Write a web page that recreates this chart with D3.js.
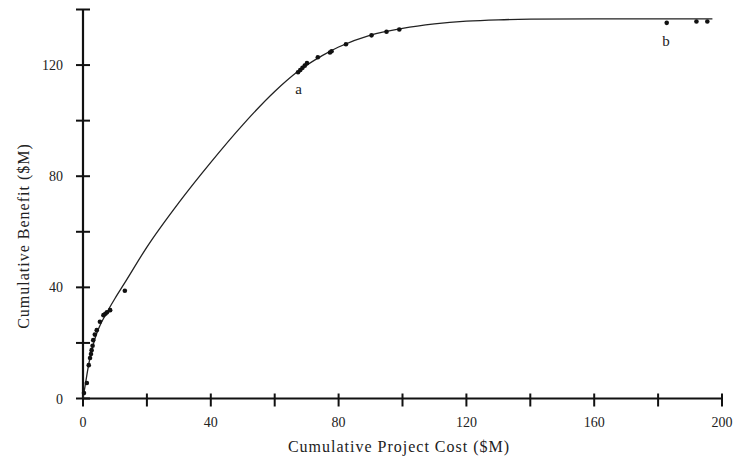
<!DOCTYPE html>
<html>
<head>
<meta charset="utf-8">
<script src="https://cdn.jsdelivr.net/npm/d3@7"></script>
<style>
  body { margin: 0; background: #fff; }
  text { font-family: "Liberation Serif", "DejaVu Serif", serif; fill: #222; }
</style>
</head>
<body>
<div id="chart"></div>
<script>
"use strict";

// Fitted benefit curve (cost $M, benefit $M).
const curveCost    = [0, 0.5, 1, 2, 3, 4, 5, 7, 10, 13, 20, 30, 40, 50, 60, 67, 75, 80, 90, 100, 110, 120, 130, 140, 160, 180, 197];
const curveBenefit = [0, 3.5, 7, 13.5, 18.5, 22.5, 25.5, 30, 36, 41.5, 54.5, 70.5, 85, 98.5, 110.5, 117.5, 123.5, 126.5, 130.8, 133.2, 134.8, 135.8, 136.3, 136.5, 136.6, 136.6, 136.6];

// Individual projects (cumulative).
const pointCost    = [0.3, 1.2, 1.8, 2.2, 2.5, 2.7, 3.0, 3.2, 3.7, 4.3, 5.3, 6.4, 7.0, 7.5, 8.5, 13.1,
                      67.3, 68.0, 68.7, 69.4, 70.1, 73.5, 77.3, 77.8, 82.3, 90.3, 95.0, 99.0,
                      182.7, 192.0, 195.4];
const pointBenefit = [2, 5.6, 12, 14.6, 16, 17.4, 19, 21, 23, 24.6, 27.6, 30, 30.5, 31, 31.8, 38.8,
                      117.4, 118.2, 119, 119.8, 120.7, 122.8, 124.5, 125, 127.5, 130.7, 132, 132.8,
                      135.2, 135.7, 135.7];

// Point labels.
const labelText    = ["a", "b"];
const labelCost    = [67.5, 182.5];
const labelBenefit = [109.5, 127];

const xTicks = d3.range(0, 201, 20);
const xTickLabels = [0, 40, 80, 120, 160, 200];
const yTicks = d3.range(0, 141, 20);
const yTickLabels = [0, 40, 80, 120];

const width = 738, height = 458;
const svg = d3.select("#chart").append("svg")
    .attr("width", width)
    .attr("height", height);
svg.append("rect").attr("width", width).attr("height", height).attr("fill", "#fff");

let x = d3.scaleLinear().domain([0, 200]).range([83, 722]);
let y = d3.scaleLinear().domain([0, 140]).range([398.5, 9.5]);

// Axes lines.
svg.append("line")
    .attr("x1", x(0)).attr("x2", x(200))
    .attr("y1", y(0)).attr("y2", y(0))
    .style("stroke", "#111").style("stroke-width", "2.2px");
svg.append("line")
    .attr("x1", x(0)).attr("x2", x(0))
    .attr("y1", y(0)).attr("y2", y(140))
    .style("stroke", "#111").style("stroke-width", "2.2px");

// Tick marks cross the axis lines.
svg.selectAll(".xtick").data(xTicks).enter().append("line")
    .attr("class", "xtick")
    .attr("x1", d => x(d)).attr("x2", d => x(d))
    .attr("y1", y(0) - 5).attr("y2", y(0) + 8)
    .style("stroke", "#111").style("stroke-width", "2px");
svg.selectAll(".ytick").data(yTicks).enter().append("line")
    .attr("class", "ytick")
    .attr("x1", x(0) - 7).attr("x2", x(0) + 7)
    .attr("y1", d => y(d)).attr("y2", d => y(d))
    .style("stroke", "#111").style("stroke-width", "2px");

svg.selectAll(".xlabel").data(xTickLabels).enter().append("text")
    .attr("class", "xlabel")
    .attr("x", d => x(d))
    .attr("y", y(0) + 28)
    .style("font-size", "14px")
    .style("text-anchor", "middle")
    .text(d => d);
svg.selectAll(".ylabel").data(yTickLabels).enter().append("text")
    .attr("class", "ylabel")
    .attr("x", x(0) - 20)
    .attr("y", d => y(d) + 5)
    .style("font-size", "14px")
    .style("text-anchor", "end")
    .text(d => d);

// Axis titles (wider face in the original, hence the spacing).
svg.append("text")
    .attr("x", 399)
    .attr("y", 452)
    .style("font-size", "16px")
    .style("letter-spacing", "1px")
    .style("text-anchor", "middle")
    .text("Cumulative Project Cost ($M)");
svg.append("text")
    .attr("transform", "translate(29,236) rotate(-90)")
    .style("font-size", "16px")
    .style("letter-spacing", "1px")
    .style("text-anchor", "middle")
    .text("Cumulative Benefit ($M)");

// Fitted curve.
let line = d3.line()
    .x(i => x(curveCost[i]))
    .y(i => y(curveBenefit[i]))
    .curve(d3.curveMonotoneX);
svg.append("path")
    .datum(d3.range(curveCost.length))
    .attr("d", line)
    .style("fill", "none")
    .style("stroke", "#222")
    .style("stroke-width", "1.3px");

// Project points.
svg.selectAll(".pt").data(d3.range(pointCost.length)).enter().append("circle")
    .attr("class", "pt")
    .attr("cx", i => x(pointCost[i]))
    .attr("cy", i => y(pointBenefit[i]))
    .attr("r", 2.3)
    .style("fill", "#111");

svg.selectAll(".ptlabel").data(d3.range(labelText.length)).enter().append("text")
    .attr("class", "ptlabel")
    .attr("x", i => x(labelCost[i]))
    .attr("y", i => y(labelBenefit[i]))
    .style("font-size", "15px")
    .style("text-anchor", "middle")
    .text(i => labelText[i]);
</script>
</body>
</html>
